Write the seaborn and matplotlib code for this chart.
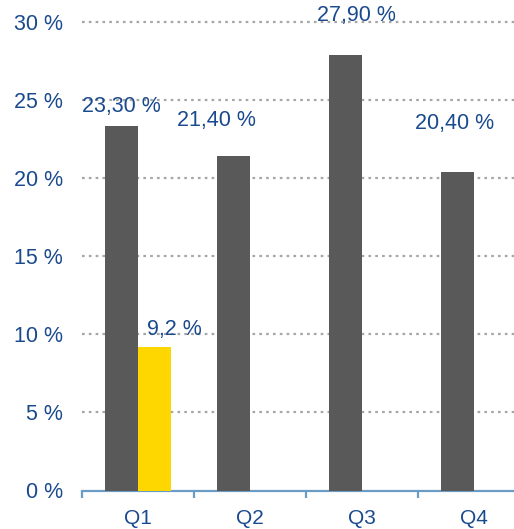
import matplotlib
matplotlib.use("Agg")
import matplotlib.pyplot as plt
import pandas as pd
import seaborn as sns

# --- data -------------------------------------------------------------
quarters = ["Q1", "Q2", "Q3", "Q4"]
share_main = [23.3, 21.4, 27.9, 20.4]
share_extra = [9.2, None, None, None]
main_labels = ["23,30 %", "21,40 %", "27,90 %", "20,40 %"]
extra_labels = ["9,2 %", "", "", ""]
y_ticks = [0, 5, 10, 15, 20, 25, 30]
y_tick_labels = ["0 %", "5 %", "10 %", "15 %", "20 %", "25 %", "30 %"]

series = ["Hauptwert", "Zusatzwert"]
rows = []
for q, a, b in zip(quarters, share_main, share_extra):
    rows.append({"Quartal": q, "Reihe": series[0], "Wert": a})
    if b is not None:
        rows.append({"Quartal": q, "Reihe": series[1], "Wert": b})
df = pd.DataFrame(rows)

# --- style ------------------------------------------------------------
sns.set_style("white")
plt.rcParams["font.family"] = ["Liberation Sans", "DejaVu Sans"]
text_blue = "#1A4A8E"
axis_blue = "#6A9CC6"
fs = 15.5
px = 72 / 100  # one pixel in points at dpi 100
bar_colors = {series[0]: "#595959", series[1]: "#FFD700"}

W, H = 514, 529
fig = plt.figure(figsize=(W / 100, H / 100), dpi=100)
ax = fig.add_axes([82 / W, 38.5 / H, 448 / W, 468.8 / H])

sns.barplot(data=df, x="Quartal", y="Wert", hue="Reihe", order=quarters,
            hue_order=series, palette=bar_colors, width=0.59, dodge=True,
            saturation=1, legend=False, errorbar=None, linewidth=0,
            ax=ax, zorder=3)

ax.set_xlim(-0.5, 3.5)
ax.set_ylim(0, 30)
ax.set_xlabel("")
ax.set_ylabel("")

# horizontal dotted grid
ax.set_yticks(y_ticks)
ax.set_yticklabels(y_tick_labels)
for t in y_ticks[1:]:
    ax.axhline(t, color="#A6A6A6", lw=2.2 * px, ls=(0, (1.2, 1.9)), zorder=1,
               clip_on=False)

for side in ["top", "right", "left"]:
    ax.spines[side].set_visible(False)
ax.spines["bottom"].set_color(axis_blue)
ax.spines["bottom"].set_linewidth(2.2 * px)

ax.tick_params(axis="y", left=False, length=0, pad=19 * px, labelsize=fs,
               labelcolor=text_blue)
ax.tick_params(axis="x", which="major", bottom=False, length=0, pad=18 * px,
               labelsize=15, labelcolor=text_blue)
ax.set_xticks([-0.5, 0.5, 1.5, 2.5, 3.5], minor=True)
ax.tick_params(axis="x", which="minor", bottom=True, length=6.5 * px,
               width=2.2 * px, color=axis_blue, direction="out")

# value labels
main_offsets = [(0, 19.5), (-17.5, 36), (10.5, 39), (-2.5, 48)]
extra_offsets = [(19.5, 17), None, None, None]
containers = ax.containers
for bar, txt, off in zip(containers[0], main_labels, main_offsets):
    ax.annotate(txt, (bar.get_x() + bar.get_width() / 2, bar.get_height()),
                xytext=off, textcoords="offset pixels", ha="center", va="center",
                color=text_blue, fontsize=fs, annotation_clip=False, zorder=4)
extra_bars = [b for b in containers[1] if b.get_height() > 0]
for bar, txt, off in zip(extra_bars, extra_labels, extra_offsets):
    ax.annotate(txt, (bar.get_x() + bar.get_width() / 2, bar.get_height()),
                xytext=off, textcoords="offset pixels", ha="center", va="center",
                color=text_blue, fontsize=fs, annotation_clip=False, zorder=4)

fig.savefig("out.png", dpi=100)
